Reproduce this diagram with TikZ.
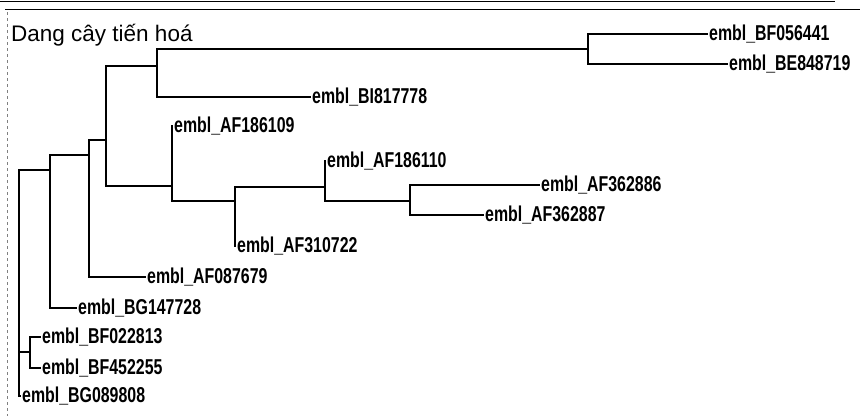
\documentclass[tikz,border=0pt]{standalone}
\usepackage{fontspec}
\setmainfont{Liberation Sans}
\newfontfamily\leaffont[FakeStretch=0.74]{Liberation Sans}
\usepackage{tikz}
\usetikzlibrary{calc}

\begin{document}
\begin{tikzpicture}[x=1pt, y=-1pt,
    branch/.style={line width=1.7pt, black},
    thinbranch/.style={line width=1.1pt, black},
    leaf/.style={anchor=west, inner sep=1pt, font=\leaffont\bfseries\fontsize{21.5}{23}\selectfont}]

\useasboundingbox (0,0) rectangle (860,416);

% --- FRAME (Top Section): scanned window border ---
\begin{scope}
    \draw[line width=1.2pt] (0,1.5) -- (835,1.5);
    \draw[line width=1.2pt] (5,9.5) -- (860,9.5);
    \draw[gray, dashed, line width=0.8pt] (7,12) -- (7,416);

    \node[anchor=base west, inner sep=0pt, font=\fontsize{22.5}{24}\selectfont] (title) at (11,41) {Dang cây tiến hoá};
\end{scope}

% --- TREE: internal nodes ---
\begin{scope}
    \coordinate (r) at (19,282);
    \coordinate (a) at (50,170);
    \coordinate (b) at (89,155);
    \coordinate (c) at (106,140);
    \coordinate (d) at (157,66);
    \coordinate (e) at (588,49);
    \coordinate (f) at (172,186);
    \coordinate (g) at (235,201);
    \coordinate (h) at (325,187);
    \coordinate (i) at (410,201);
    \coordinate (bfc) at (30,352);

    % Leaves
    \node[leaf] (bf056441) at (708,34) {embl\_BF056441};
    \node[leaf] (be848719) at (728,64) {embl\_BE848719};
    \node[leaf] (bi817778) at (311,97) {embl\_BI817778};
    \node[leaf] (af186109) at (173,126) {embl\_AF186109};
    \node[leaf] (af186110) at (326,161) {embl\_AF186110};
    \node[leaf] (af362886) at (540,185) {embl\_AF362886};
    \node[leaf] (af362887) at (484,215) {embl\_AF362887};
    \node[leaf] (af310722) at (236,246) {embl\_AF310722};
    \node[leaf] (af087679) at (146,277) {embl\_AF087679};
    \node[leaf] (bg147728) at (77,308) {embl\_BG147728};
    \node[leaf] (bf022813) at (41,337) {embl\_BF022813};
    \node[leaf] (bf452255) at (41,368) {embl\_BF452255};
    \node[leaf] (bg089808) at (21,396) {embl\_BG089808};

    % Branches
    \draw[branch] (r) |- (a);
    \draw[branch] (r) |- (bfc);
    \draw[branch] (r) |- (bg089808.west);
    \draw[branch] (a) |- (b);
    \draw[branch] (a) |- (bg147728.west);
    \draw[branch] (b) |- (c);
    \draw[branch] (b) |- (af087679.west);
    \draw[branch] (c) |- (d);
    \draw[branch] (c) |- (f);
    \draw[thinbranch] (d) |- (e);
    \draw[branch] (d) |- (bi817778.west);
    \draw[branch] (e) |- (bf056441.west);
    \draw[thinbranch] (e) |- (be848719.west);
    \draw[branch] (f) |- (af186109.west);
    \draw[branch] (f) |- (g);
    \draw[branch] (g) |- (h);
    \draw[branch] (g) |- (af310722.west);
    \draw[thinbranch] (h) |- (af186110.west);
    \draw[branch] (h) |- (i);
    \draw[branch] (i) |- (af362886.west);
    \draw[branch] (i) |- (af362887.west);
    \draw[branch] (bfc) |- (bf022813.west);
    \draw[branch] (bfc) |- (bf452255.west);
\end{scope}

\end{tikzpicture}
\end{document}
